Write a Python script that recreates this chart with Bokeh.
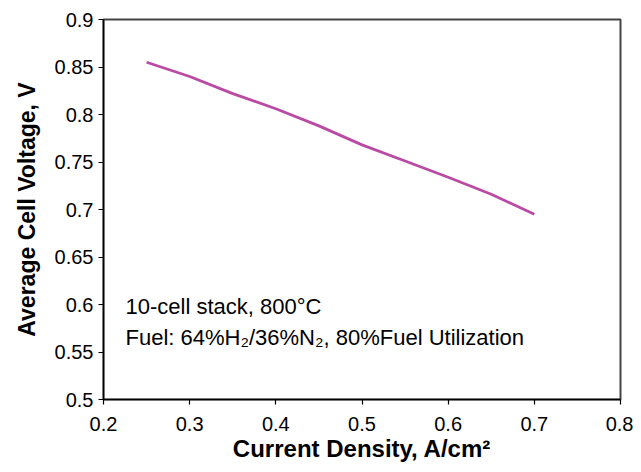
from bokeh.plotting import figure
from bokeh.models import Range1d, FixedTicker, Label
from bokeh.embed import file_html
from bokeh.resources import INLINE

# Data
current_density = [0.25, 0.30, 0.35, 0.40, 0.45, 0.50, 0.55, 0.60, 0.65, 0.70]
cell_voltage = [0.855, 0.840, 0.822, 0.806, 0.788, 0.768, 0.751, 0.734, 0.716, 0.695]

x_ticks = [0.2, 0.3, 0.4, 0.5, 0.6, 0.7, 0.8]
x_tick_labels = ["0.2", "0.3", "0.4", "0.5", "0.6", "0.7", "0.8"]
y_ticks = [0.5, 0.55, 0.6, 0.65, 0.7, 0.75, 0.8, 0.85, 0.9]
y_tick_labels = ["0.5", "0.55", "0.6", "0.65", "0.7", "0.75", "0.8", "0.85", "0.9"]

note_line1 = "10-cell stack, 800°C"
note_line2 = "Fuel: 64%H\u2082/36%N\u2082, 80%Fuel Utilization"

FONT = "Liberation Sans"

p = figure(width=633, height=464, output_backend="svg", toolbar_location=None,
           x_range=Range1d(0.2, 0.8), y_range=Range1d(0.5, 0.9),
           min_border_left=103, min_border_right=13, min_border_top=19, min_border_bottom=65)

p.line(current_density, cell_voltage, line_color="#B94BA5", line_width=2.8)

p.xgrid.visible = False
p.ygrid.visible = False
p.outline_line_color = "#444444"
p.outline_line_width = 2

for ax, ticks, labels in ((p.xaxis[0], x_ticks, x_tick_labels), (p.yaxis[0], y_ticks, y_tick_labels)):
    ax.ticker = FixedTicker(ticks=ticks)
    ax.major_label_overrides = {t: l for t, l in zip(ticks, labels)}
    ax.minor_tick_line_color = None
    ax.major_tick_out = 5
    ax.major_tick_in = 0
    ax.axis_line_color = "black"
    ax.axis_line_width = 1.5
    ax.major_tick_line_color = "black"
    ax.major_tick_line_width = 1.2
    ax.major_label_text_font = FONT
    ax.major_label_text_font_size = "20px"
    ax.major_label_text_color = "black"
    ax.major_label_text_line_height = 1.0
    ax.axis_label_text_font = FONT
    ax.axis_label_text_font_style = "bold"
    ax.axis_label_text_color = "black"
    ax.axis_label_text_line_height = 1.0

p.xaxis.axis_label = "Current Density, A/cm²"
p.yaxis.axis_label = "Average Cell Voltage, V"
p.xaxis.axis_label_text_font_size = "24px"
p.yaxis.axis_label_text_font_size = "23px"
p.xaxis.major_label_standoff = 12
p.yaxis.major_label_standoff = 5
p.xaxis.axis_label_standoff = 1
p.yaxis.axis_label_standoff = 12

p.add_layout(Label(x=0.2255, y=0.5974, text=note_line1, text_font=FONT, text_font_size="22px",
                   text_color="black", text_baseline="alphabetic"))
p.add_layout(Label(x=0.2255, y=0.5650, text=note_line2, text_font=FONT, text_font_size="22px",
                   text_color="black", text_baseline="alphabetic"))

open("out.html", "w").write(file_html(p, INLINE))
